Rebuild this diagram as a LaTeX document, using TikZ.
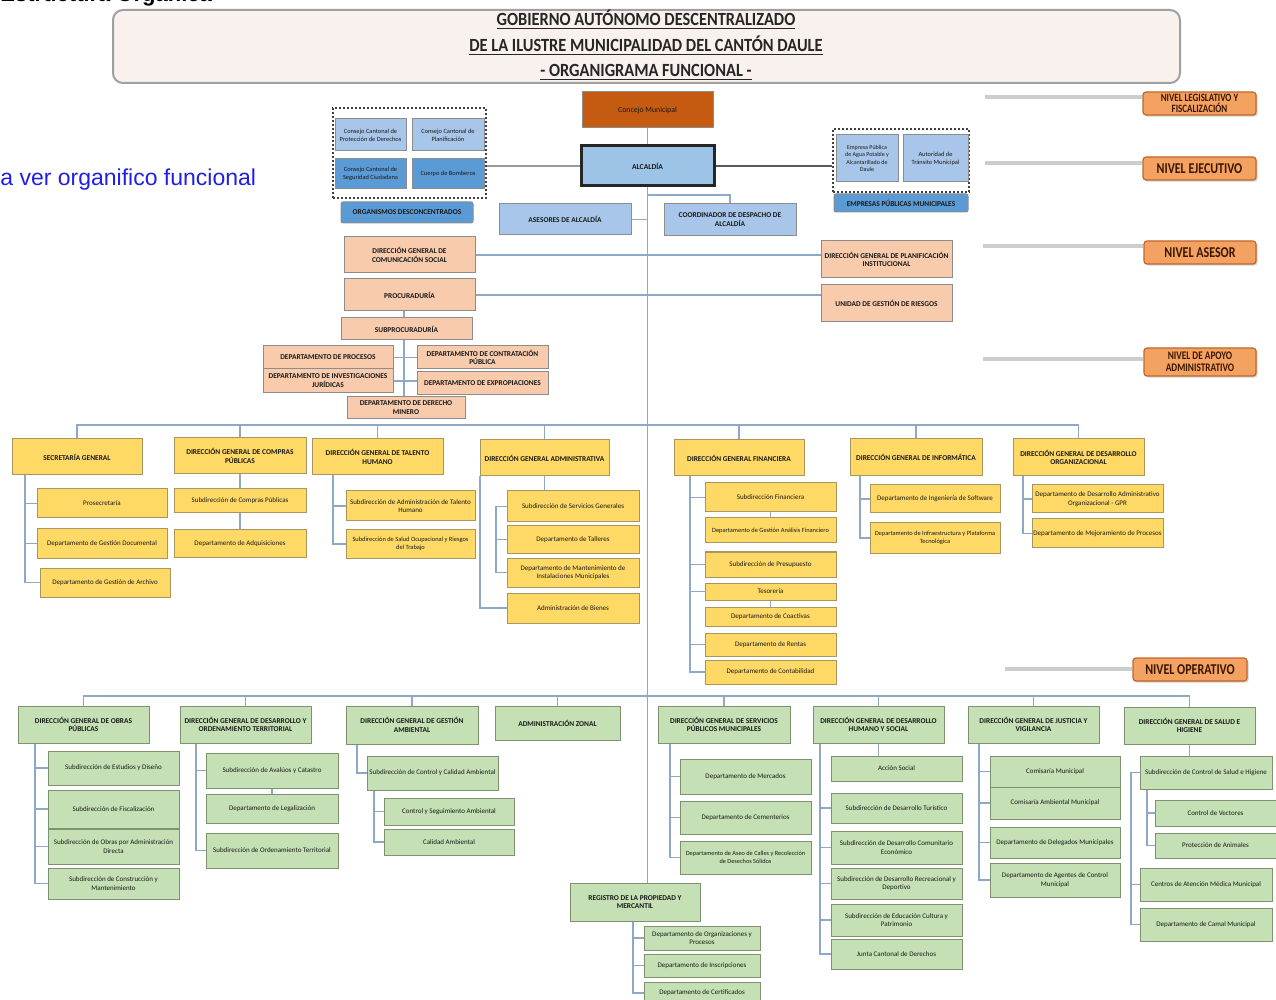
\documentclass[tikz,border=0pt]{standalone}
\usepackage{fontspec}
\setmainfont{Carlito}
\newfontfamily\lvlfont[FakeStretch=0.8]{Carlito}
\newfontfamily\hdrfont[FakeStretch=0.88]{Carlito}
\newfontfamily\arialf{Liberation Sans}
\usetikzlibrary{calc,shadows}
\pgfdeclarelayer{background}
\pgfsetlayers{background,main}
\definecolor{concejoc}{HTML}{C55A11}
\definecolor{alcc}{HTML}{9DC3E6}
\definecolor{lblue}{HTML}{A8C6EA}
\definecolor{mblue}{HTML}{5B9BD5}
\definecolor{salmon}{HTML}{F8CBAD}
\definecolor{yel}{HTML}{FFD966}
\definecolor{yelb}{HTML}{A8965E}
\definecolor{grn}{HTML}{C5E0B4}
\definecolor{grnb}{HTML}{7F9270}
\definecolor{connc}{HTML}{8EA9C8}
\definecolor{lvlf}{HTML}{F4A261}
\definecolor{lvlb}{HTML}{C0662A}
\definecolor{lvlt}{HTML}{3A1500}
\definecolor{lvll}{HTML}{CDCDCD}
\definecolor{hdf}{HTML}{F8F1EE}
\definecolor{hdb}{HTML}{A0A0A0}
\definecolor{linkc}{HTML}{1F1FE6}
\definecolor{bordc}{HTML}{8C8C8C}
\newcommand{\bx}[7]{\node[#1, minimum width={(#5-#3)*0.5pt}, minimum height={(#6-#4)*0.5pt}] (#2) at ({(#3+#5)/2},{(#4+#6)/2}) {#7};}
\newcommand{\brk}[3]{\draw[con] (#2.west) -| ($(#1.south west)+(#3,0)$);}
\begin{document}
\begin{tikzpicture}[x=0.5pt,y=-0.5pt,
  box/.style={draw=bordc, line width=0.5pt, inner sep=0.4pt, outer sep=0pt, align=center, text=black!90, font=\fontsize{3.5}{4.2}\selectfont},
  hd/.style={box, font=\bfseries\fontsize{3.7}{4.4}\selectfont},
  ybox/.style={box, fill=yel, draw=yelb},
  yhd/.style={hd, fill=yel, draw=yelb},
  gbox/.style={box, fill=grn, draw=grnb},
  ghd/.style={hd, fill=grn, draw=grnb},
  shd/.style={hd, fill=salmon, draw=bordc},
  bbox/.style={box, fill=lblue, draw=bordc},
  smallf/.style={font=\fontsize{3.2}{4.0}\selectfont},
  dgroup/.style={draw=black!75, dash pattern=on 1.2pt off 0.8pt, line width=0.7pt},
  lvl/.style={draw=lvlb, fill=lvlf, rounded corners=1.5pt, line width=0.6pt, inner sep=0pt, align=center, text=lvlt,
     font=\lvlfont\bfseries\fontsize{7.5}{7.5}\selectfont, drop shadow={shadow xshift=0.8pt, shadow yshift=-0.8pt, opacity=0.35}},
  con/.style={draw=connc, line width=0.6pt},
  lvline/.style={draw=lvll, line width=1.6pt}
]
\useasboundingbox (0,0) rectangle (1276,1000);

% cut title and link text
\begin{scope}
\clip (0,0) rectangle (1276,1000);
\node[anchor=base west, inner sep=0, font=\arialf\bfseries\fontsize{11}{12}\selectfont] (cuttitle) at (0,2) {Estructura Orgánica};
\end{scope}
\node[anchor=west, inner sep=0, text=linkc, font=\arialf\fontsize{11.5}{13}\selectfont] (link) at (0,180) {a ver organifico funcional};

% header
\bx{draw=hdb, fill=hdf, rounded corners=5pt, line width=1pt}{hdr}{113}{10}{1180}{83}{}
\node[font=\hdrfont\bfseries\fontsize{9.3}{10}\selectfont, text=black!85, inner sep=0] (h1) at (646,20) {\underline{GOBIERNO AUTÓNOMO DESCENTRALIZADO}};
\node[font=\hdrfont\bfseries\fontsize{9.3}{10}\selectfont, text=black!85, inner sep=0] (h2) at (646,46) {\underline{DE LA ILUSTRE MUNICIPALIDAD DEL CANTÓN DAULE}};
\node[font=\hdrfont\bfseries\fontsize{9.3}{10}\selectfont, text=black!85, inner sep=0] (h3) at (646,72) {\underline{- ORGANIGRAMA FUNCIONAL -}};

% top level
\bx{box, fill=concejoc, font=\fontsize{3.9}{4.5}\selectfont}{conc}{582}{92}{713}{128}{Concejo Municipal}
\bx{box, fill=alcc, draw=black!85, line width=1.5pt, font=\bfseries\fontsize{3.8}{4.4}\selectfont}{alc}{581}{146}{714}{186}{ALCALDÍA}
\bx{dgroup}{dgl}{333}{108}{486}{198}{}
\bx{bbox, smallf}{cc1}{335}{119}{406}{151}{Consejo Cantonal de\\Protección de Derechos}
\bx{bbox, smallf}{cc2}{412}{119}{484}{151}{Consejo Cantonal de\\Planificación}
\bx{box, smallf, fill=mblue}{cc3}{335}{159}{406}{189}{Consejo Cantonal de\\Seguridad Ciudadana}
\bx{box, smallf, fill=mblue}{cc4}{412}{159}{484}{189}{Cuerpo de Bomberos}
\bx{hd, fill=mblue, rounded corners=1pt}{orgd}{341}{202}{473}{223}{ORGANISMOS DESCONCENTRADOS}
\bx{hd, fill=lblue}{ases}{499}{204}{631}{235}{ASESORES DE ALCALDÍA}
\bx{hd, fill=lblue}{coord}{664}{204}{796}{236}{COORDINADOR DE DESPACHO DE\\ALCALDÍA}
\bx{dgroup}{dgr}{833}{129}{969}{192}{}
\bx{bbox, font=\fontsize{3.0}{3.6}\selectfont}{emp1}{836}{135}{898}{182}{Empresa Pública\\de Agua Potable y\\Alcantarillado de\\Daule}
\bx{bbox, smallf}{emp2}{903}{135}{968}{182}{Autoridad de\\Tránsito Municipal}
\bx{hd, fill=mblue, rounded corners=1pt}{emps}{834}{194}{968}{212}{EMPRESAS PÚBLICAS MUNICIPALES}

% level labels
\bx{lvl, font=\lvlfont\bfseries\fontsize{5.6}{5.6}\selectfont}{lv1}{1143}{92}{1256}{115}{NIVEL LEGISLATIVO Y\\FISCALIZACIÓN}
\bx{lvl}{lv2}{1143}{157}{1256}{180}{NIVEL EJECUTIVO}
\bx{lvl}{lv3}{1144}{241}{1256}{264}{NIVEL ASESOR}
\bx{lvl, font=\lvlfont\bfseries\fontsize{5.8}{5.8}\selectfont}{lv4}{1144}{348}{1256}{376}{NIVEL DE APOYO\\ADMINISTRATIVO}
\bx{lvl}{lv5}{1133}{658}{1247}{681}{NIVEL OPERATIVO}
\coordinate (l1) at (985,97);
\coordinate (l2) at (985,163);
\coordinate (l3) at (983,246);
\coordinate (l4) at (983,359);
\coordinate (l5) at (1005,669);

% asesor level
\bx{shd}{com}{344}{237}{475}{273}{DIRECCIÓN GENERAL DE\\COMUNICACIÓN SOCIAL}
\bx{shd}{proc}{344}{279}{475}{311}{PROCURADURÍA}
\bx{shd}{sproc}{341}{318}{472}{340}{SUBPROCURADURÍA}
\bx{shd}{dproc}{263}{346}{393}{369}{DEPARTAMENTO DE PROCESOS}
\bx{shd}{dinv}{263}{369}{393}{393}{DEPARTAMENTO DE INVESTIGACIONES\\JURÍDICAS}
\bx{shd}{dcon}{417}{346}{548}{369}{DEPARTAMENTO DE CONTRATACIÓN\\PÚBLICA}
\bx{shd}{dexp}{417}{372}{548}{395}{DEPARTAMENTO DE EXPROPIACIONES}
\bx{shd}{dmin}{347}{397}{465}{419}{DEPARTAMENTO DE DERECHO\\MINERO}
\bx{shd}{plan}{821}{241}{952}{278}{DIRECCIÓN GENERAL DE PLANIFICACIÓN\\INSTITUCIONAL}
\bx{shd}{ries}{821}{285}{952}{322}{UNIDAD DE GESTIÓN DE RIESGOS}

% yellow level
\bx{yhd}{sec}{12}{439}{142}{475}{SECRETARÍA GENERAL}
\bx{yhd}{comp}{174}{438}{306}{474}{DIRECCIÓN GENERAL DE COMPRAS\\PÚBLICAS}
\bx{yhd}{tal}{312}{439}{443}{475}{DIRECCIÓN GENERAL DE TALENTO\\HUMANO}
\bx{yhd}{adm}{480}{440}{609}{476}{DIRECCIÓN GENERAL ADMINISTRATIVA}
\bx{yhd}{fin}{674}{440}{804}{476}{DIRECCIÓN GENERAL FINANCIERA}
\bx{yhd}{inf}{850}{439}{982}{476}{DIRECCIÓN GENERAL DE INFORMÁTICA}
\bx{yhd}{dorg}{1013}{439}{1144}{476}{DIRECCIÓN GENERAL DE DESARROLLO\\ORGANIZACIONAL}

\bx{ybox}{sec1}{37}{489}{167}{518}{Prosecretaría}
\bx{ybox}{sec2}{37}{529}{167}{558}{Departamento de Gestión Documental}
\bx{ybox}{sec3}{40}{568}{170}{597}{Departamento de Gestión de Archivo}
\bx{ybox}{comp1}{174}{489}{306}{513}{Subdirección de Compras Públicas}
\bx{ybox}{comp2}{174}{530}{306}{557}{Departamento de Adquisiciones}
\bx{ybox}{tal1}{346}{491}{475}{521}{Subdirección de Administración de Talento\\Humano}
\bx{ybox, smallf}{tal2}{346}{530}{475}{558}{Subdirección de Salud Ocupacional y Riesgos\\del Trabajo}
\bx{ybox}{adm1}{507}{491}{639}{522}{Subdirección de Servicios Generales}
\bx{ybox}{adm2}{507}{526}{639}{553}{Departamento de Talleres}
\bx{ybox}{adm3}{507}{558}{639}{587}{Departamento de Mantenimiento de\\Instalaciones Municipales}
\bx{ybox}{adm4}{507}{593}{639}{623}{Administración de Bienes}
\bx{ybox}{fin1}{705}{483}{836}{512}{Subdirección Financiera}
\bx{ybox, smallf}{fin2}{705}{518}{836}{543}{Departamento de Gestión Análisis Financiero}
\bx{ybox}{fin3}{705}{552}{836}{577}{Subdirección de Presupuesto}
\bx{ybox}{fin4}{705}{583}{836}{600}{Tesorería}
\bx{ybox}{fin5}{705}{607}{836}{626}{Departamento de Coactivas}
\bx{ybox}{fin6}{705}{633}{836}{656}{Departamento de Rentas}
\bx{ybox}{fin7}{705}{660}{836}{684}{Departamento de Contabilidad}
\bx{ybox}{inf1}{870}{485}{1000}{513}{Departamento de Ingeniería de Software}
\bx{ybox, smallf}{inf2}{870}{523}{1000}{553}{Departamento de Infraestructura y Plataforma\\Tecnológica}
\bx{ybox}{dorg1}{1032}{485}{1163}{513}{Departamento de Desarrollo Administrativo\\Organizacional - GPR}
\bx{ybox}{dorg2}{1032}{519}{1163}{548}{Departamento de Mejoramiento de Procesos}

% green level
\bx{ghd}{obr}{18}{706}{149}{743}{DIRECCIÓN GENERAL DE OBRAS\\PÚBLICAS}
\bx{ghd}{ord}{180}{706}{311}{743}{DIRECCIÓN GENERAL DE DESARROLLO Y\\ORDENAMIENTO TERRITORIAL}
\bx{ghd}{amb}{346}{706}{478}{744}{DIRECCIÓN GENERAL DE GESTIÓN\\AMBIENTAL}
\bx{ghd}{zon}{495}{706}{620}{740}{ADMINISTRACIÓN ZONAL}
\bx{ghd}{ser}{658}{706}{790}{743}{DIRECCIÓN GENERAL DE SERVICIOS\\PÚBLICOS MUNICIPALES}
\bx{ghd}{hum}{813}{706}{944}{743}{DIRECCIÓN GENERAL DE DESARROLLO\\HUMANO Y SOCIAL}
\bx{ghd}{jus}{968}{706}{1099}{743}{DIRECCIÓN GENERAL DE JUSTICIA Y\\VIGILANCIA}
\bx{ghd}{sal}{1124}{707}{1255}{744}{DIRECCIÓN GENERAL DE SALUD E\\HIGIENE}
\bx{ghd}{reg}{570}{883}{700}{921}{REGISTRO DE LA PROPIEDAD Y\\MERCANTIL}

\bx{gbox}{obr1}{48}{751}{179}{785}{Subdirección de Estudios y Diseño}
\bx{gbox}{obr2}{48}{790}{179}{828}{Subdirección de Fiscalización}
\bx{gbox}{obr3}{48}{829}{179}{864}{Subdirección de Obras por Administración\\Directa}
\bx{gbox}{obr4}{48}{868}{179}{899}{Subdirección de Construcción y\\Mantenimiento}
\bx{gbox}{ord1}{206}{753}{338}{788}{Subdirección de Avalúos y Catastro}
\bx{gbox}{ord2}{206}{794}{338}{823}{Departamento de Legalización}
\bx{gbox}{ord3}{206}{833}{338}{868}{Subdirección de Ordenamiento Territorial}
\bx{gbox}{amb1}{367}{756}{498}{790}{Subdirección de Control y Calidad Ambiental}
\bx{gbox}{amb2}{384}{798}{514}{825}{Control y Seguimiento Ambiental}
\bx{gbox}{amb3}{384}{829}{514}{855}{Calidad Ambiental}
\bx{gbox}{ser1}{680}{759}{811}{794}{Departamento de Mercados}
\bx{gbox}{ser2}{680}{801}{811}{834}{Departamento de Cementerios}
\bx{gbox, font=\fontsize{3.15}{4.0}\selectfont}{ser3}{680}{841}{811}{874}{Departamento de Aseo de Calles y Recolección\\de Desechos Sólidos}
\bx{gbox}{hum1}{831}{756}{962}{781}{Acción Social}
\bx{gbox}{hum2}{831}{793}{962}{823}{Subdirección de Desarrollo Turístico}
\bx{gbox}{hum3}{831}{831}{962}{864}{Subdirección de Desarrollo Comunitario\\Económico}
\bx{gbox}{hum4}{831}{868}{962}{899}{Subdirección de Desarrollo Recreacional y\\Deportivo}
\bx{gbox}{hum5}{831}{904}{962}{936}{Subdirección de Educación Cultura y\\Patrimonio}
\bx{gbox}{hum6}{831}{939}{962}{969}{Junta Cantonal de Derechos}
\bx{gbox}{jus1}{990}{756}{1120}{787}{Comisaría Municipal}
\bx{gbox}{jus2}{990}{787}{1120}{819}{Comisaría Ambiental Municipal}
\bx{gbox}{jus3}{990}{827}{1120}{858}{Departamento de Delegados Municipales}
\bx{gbox}{jus4}{990}{863}{1120}{897}{Departamento de Agentes de Control\\Municipal}
\bx{gbox}{sal1}{1140}{756}{1272}{789}{Subdirección de Control de Salud e Higiene}
\bx{gbox}{sal2}{1155}{800}{1276}{826}{Control de Vectores}
\bx{gbox}{sal3}{1155}{833}{1276}{858}{Protección de Animales}
\bx{gbox}{sal4}{1140}{868}{1272}{901}{Centros de Atención Médica Municipal}
\bx{gbox}{sal5}{1140}{908}{1272}{941}{Departamento de Camal Municipal}
\bx{gbox}{reg1}{644}{926}{760}{950}{Departamento de Organizaciones y\\Procesos}
\bx{gbox}{reg2}{644}{954}{760}{977}{Departamento de Inscripciones}
\bx{gbox}{reg3}{644}{982}{760}{1004}{Departamento de Certificados}

% ---------- connectors (behind boxes) ----------
\begin{pgfonlayer}{background}
\draw[lvline] (l1) -- (l1 -| lv1.west);
\draw[lvline] (l2) -- (l2 -| lv2.west);
\draw[lvline] (l3) -- (l3 -| lv3.west);
\draw[lvline] (l4) -- (l4 -| lv4.west);
\draw[lvline] (l5) -- (l5 -| lv5.west);
\draw[con, line width=0.7pt] (conc.south) -- (alc.north);
\draw[con, line width=0.7pt] (alc.south) -- (alc.south |- reg.north);
\draw[draw=black!40, line width=0.6pt] (alc.west) -- (alc.west -| dgl.east);
\draw[draw=black!65, line width=1pt] (alc.east) -- (alc.east -| dgr.west);
\draw[con] (ases.east) -- (ases.east -| alc.south);
\coordinate (cel) at (0,195);
\draw[con] (alc.south |- cel) -| (coord.north);
% asesor
\draw[con] (com.east) -- (com.east -| plan.west);
\draw[con] (proc.east) -- (proc.east -| ries.west);
\draw[con] ($(proc.south west)+(60,0)$) -- ($(dmin.north west)+(57,0)$);
\draw[con] (dproc.east) -- (dproc.east -| dcon.west);
\draw[con] (dinv.east) -- (dinv.east -| dexp.west);
% yellow bus
\coordinate (ybus) at (0,425);
\draw[con] (sec.north) -- (sec.north |- ybus) -- (dorg.north |- ybus) -- (dorg.north);
\foreach \n in {comp,tal,adm,fin,inf} {\draw[con] (\n.north) -- (\n.north |- ybus);}
\brk{sec}{sec1}{13}\brk{sec}{sec2}{13}\brk{sec}{sec3}{13}
\draw[con] (comp.south) -- (comp1.north);
\draw[con] (comp1.south) -- (comp2.north);
\brk{tal}{tal1}{21}\brk{tal}{tal2}{21}
\draw[con] (adm.south) -- (adm.south |- adm1.north);
\draw[con] (adm1.west) -| ($(adm3.west)+(-11,0)$) -- (adm3.west);
\draw[con] (adm2.west) -- ($(adm2.west)+(-11,0)$);
\draw[con] (adm4.west) -| (adm.south west);
\brk{fin}{fin1}{16}\brk{fin}{fin3}{16}\brk{fin}{fin4}{16}\brk{fin}{fin6}{16}\brk{fin}{fin7}{16}
\draw[con] (fin1.south) -- (fin2.north);
\draw[con] (fin4.south) -- (fin5.north);
\brk{inf}{inf1}{10}\brk{inf}{inf2}{10}
\brk{dorg}{dorg1}{10}\brk{dorg}{dorg2}{10}
% green bus
\coordinate (gbus) at (0,696);
\draw[con] (obr.north) -- (obr.north |- gbus) -- (sal.north |- gbus) -- (sal.north);
\foreach \n in {ord,amb,zon,ser,hum,jus} {\draw[con] (\n.north) -- (\n.north |- gbus);}
\brk{obr}{obr1}{17}\brk{obr}{obr2}{17}\brk{obr}{obr3}{17}\brk{obr}{obr4}{17}
\brk{ord}{ord1}{16}\brk{ord}{ord3}{16}
\draw[con] (ord1.south) -- (ord2.north);
\brk{amb}{amb1}{11}
\brk{amb1}{amb2}{7}\brk{amb1}{amb3}{7}
\brk{ser}{ser1}{12}\brk{ser}{ser2}{12}\brk{ser}{ser3}{12}
\draw[con] (hum.south) -- (hum.south |- hum1.north);
\brk{hum}{hum2}{7}\brk{hum}{hum3}{7}\brk{hum}{hum4}{7}\brk{hum}{hum5}{7}\brk{hum}{hum6}{7}
\brk{jus}{jus1}{11}\brk{jus}{jus2}{11}\brk{jus}{jus3}{11}\brk{jus}{jus4}{11}
\draw[con] (sal.south) -- (sal.south |- sal1.north);
\draw[con] (sal1.west) -| ($(sal5.west)+(-9,0)$) -- (sal5.west);
\draw[con] (sal4.west) -- ($(sal4.west)+(-9,0)$);
\brk{sal1}{sal2}{7}\brk{sal1}{sal3}{7}
\brk{reg}{reg1}{63}\brk{reg}{reg2}{63}\brk{reg}{reg3}{63}
\end{pgfonlayer}
\end{tikzpicture}
\end{document}
